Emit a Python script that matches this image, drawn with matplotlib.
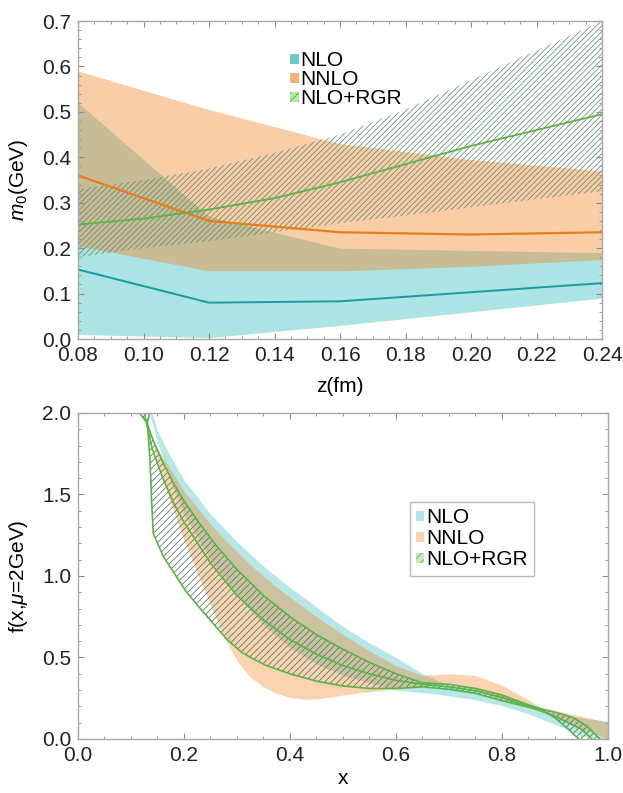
import numpy as np
import matplotlib
matplotlib.use("Agg")
import matplotlib.pyplot as plt
from matplotlib.patches import Patch
from matplotlib.ticker import MultipleLocator, FormatStrFormatter

plt.rcParams['font.family'] = ['Liberation Sans', 'DejaVu Sans']
plt.rcParams['mathtext.fontset'] = 'custom'
plt.rcParams['mathtext.it'] = 'Liberation Sans:italic'
plt.rcParams['mathtext.rm'] = 'Liberation Sans'
plt.rcParams['hatch.linewidth'] = 0.55

# ---------------- top panel: m0 vs z ----------------
z = [0.08, 0.12, 0.16, 0.20, 0.24]
nlo_m0 = [0.153, 0.080, 0.083, 0.103, 0.123]
nlo_m0_lo = [0.010, 0.003, 0.030, 0.060, 0.090]
nlo_m0_hi = [0.520, 0.270, 0.200, 0.195, 0.190]
nnlo_m0 = [0.360, 0.260, 0.235, 0.230, 0.235]
nnlo_m0_lo = [0.205, 0.150, 0.150, 0.160, 0.175]
nnlo_m0_hi = [0.590, 0.505, 0.430, 0.395, 0.370]

z_rgr = [0.08, 0.10, 0.12, 0.14, 0.16, 0.18, 0.20, 0.22, 0.24]
rgr_m0 = [0.252, 0.265, 0.285, 0.310, 0.345, 0.385, 0.425, 0.460, 0.495]
rgr_m0_lo = [0.180, 0.200, 0.215, 0.235, 0.255, 0.272, 0.290, 0.308, 0.325]
rgr_m0_hi = [0.330, 0.350, 0.375, 0.410, 0.450, 0.505, 0.570, 0.635, 0.700]

# ---------------- bottom panel: f(x) ----------------
x_nlo = [0.135, 0.15, 0.175, 0.20, 0.25, 0.30, 0.35, 0.40, 0.45, 0.50,
         0.55, 0.60, 0.65, 0.70, 0.75, 0.80, 0.85, 0.90, 0.95, 1.00]
f_nlo_hi = [2.05, 1.89, 1.73, 1.59, 1.38, 1.21, 1.06, 0.93, 0.81, 0.69,
            0.59, 0.50, 0.40, 0.33, 0.31, 0.27, 0.21, 0.16, 0.13, 0.11]
f_nlo_lo = [2.00, 1.82, 1.58, 1.38, 1.10, 0.88, 0.70, 0.56, 0.46, 0.39,
            0.345, 0.30, 0.285, 0.265, 0.24, 0.205, 0.155, 0.09, 0.02, 0.0]

x_nnlo = [0.14, 0.15, 0.175, 0.20, 0.225, 0.25, 0.275, 0.30, 0.325, 0.35,
          0.375, 0.40, 0.425, 0.45, 0.50, 0.55, 0.60, 0.65, 0.70, 0.75,
          0.80, 0.85, 0.875, 0.90, 0.95, 1.00]
f_nnlo_hi = [1.85, 1.78, 1.65, 1.52, 1.42, 1.32, 1.23, 1.15, 1.07, 1.00,
             0.93, 0.87, 0.81, 0.75, 0.64, 0.54, 0.45, 0.39, 0.40, 0.39,
             0.33, 0.24, 0.19, 0.175, 0.14, 0.10]
f_nnlo_lo = [1.84, 1.70, 1.45, 1.22, 1.02, 0.82, 0.63, 0.48, 0.38, 0.32,
             0.28, 0.255, 0.245, 0.245, 0.27, 0.29, 0.31, 0.33, 0.335, 0.30,
             0.24, 0.19, 0.17, 0.13, 0.06, 0.0]

x_rgr_a = [0.116, 0.13, 0.142, 0.16, 0.18, 0.20, 0.23, 0.26, 0.30, 0.35,
           0.40, 0.45, 0.50, 0.55, 0.60, 0.65, 0.70, 0.75, 0.80, 0.85,
           0.87, 0.90, 0.935, 0.96, 0.985]
f_rgr_a = [2.00, 1.94, 1.83, 1.70, 1.57, 1.46, 1.32, 1.19, 1.04, 0.88,
           0.75, 0.64, 0.55, 0.47, 0.40, 0.345, 0.335, 0.31, 0.27, 0.21,
           0.188, 0.165, 0.13, 0.08, 0.0]
x_rgr_b = [0.135, 0.131, 0.136, 0.139, 0.142, 0.161, 0.185, 0.205, 0.236, 0.26,
           0.281, 0.31, 0.331, 0.356, 0.40, 0.45, 0.50, 0.55, 0.60, 0.65,
           0.70, 0.75, 0.80, 0.85, 0.87, 0.90, 0.92, 0.945]
f_rgr_b = [2.00, 1.94, 1.70, 1.45, 1.26, 1.12, 1.00, 0.90, 0.78, 0.69,
           0.61, 0.53, 0.49, 0.45, 0.40, 0.355, 0.325, 0.31, 0.31, 0.32,
           0.305, 0.28, 0.235, 0.195, 0.188, 0.13, 0.075, 0.0]
x_rgr_c = [0.125, 0.14, 0.16, 0.18, 0.20, 0.25, 0.30, 0.35, 0.40, 0.45,
           0.50, 0.55, 0.60, 0.65, 0.70, 0.75, 0.80, 0.85, 0.90, 0.95, 0.97]
f_rgr_c = [2.00, 1.78, 1.60, 1.45, 1.33, 1.08, 0.88, 0.73, 0.61, 0.52,
           0.45, 0.40, 0.36, 0.335, 0.32, 0.295, 0.255, 0.20, 0.14, 0.06, 0.0]

legend_labels = ['NLO', 'NNLO', 'NLO+RGR']

# colours
c_nlo = '#12b2b2'
c_nlo_line = '#1a9aa0'
c_nnlo = '#f2821e'
c_nnlo_line = '#e67e1c'
c_rgr = '#5cb346'
c_hatch_top = '#5f8a72'
c_hatch_bot = '#4d7560'
frame_col = '#a8a8a8'


def style_axes(ax):
    for s in ax.spines.values():
        s.set_color(frame_col)
        s.set_linewidth(1.0)
    ax.tick_params(which='both', direction='in', top=True, right=True,
                   color='#8c8c8c', labelsize=15, labelcolor='#222222')
    ax.tick_params(which='major', length=4.5, width=0.8, pad=5)
    ax.tick_params(which='minor', length=2.5, width=0.6)


fig = plt.figure(figsize=(6.23, 7.93), dpi=100)

# ---- top axes ----
ax1 = fig.add_axes([0.1252, 0.5725, 0.8411, 0.4010])
ax1.fill_between(z, nlo_m0_lo, nlo_m0_hi, color=c_nlo, alpha=0.35, lw=0)
ax1.fill_between(z, nnlo_m0_lo, nnlo_m0_hi, color=c_nnlo, alpha=0.4, lw=0)
ax1.fill_between(z_rgr, rgr_m0_lo, rgr_m0_hi, facecolor='none',
                 edgecolor=c_hatch_top, hatch='//////', lw=0)
ax1.plot(z, nlo_m0, color=c_nlo_line, lw=1.4)
ax1.plot(z, nnlo_m0, color=c_nnlo_line, lw=1.6)
ax1.plot(z_rgr, rgr_m0, color=c_rgr, lw=1.3)
ax1.set_xlim(0.08, 0.24)
ax1.set_ylim(0.0, 0.7)
ax1.xaxis.set_major_locator(MultipleLocator(0.02))
ax1.xaxis.set_minor_locator(MultipleLocator(0.005))
ax1.yaxis.set_major_locator(MultipleLocator(0.1))
ax1.yaxis.set_minor_locator(MultipleLocator(0.02))
ax1.xaxis.set_major_formatter(FormatStrFormatter('%.2f'))
ax1.yaxis.set_major_formatter(FormatStrFormatter('%.1f'))
style_axes(ax1)
ax1.set_xlabel('z(fm)', fontsize=15)
ax1.set_ylabel('$m_0$(GeV)', fontsize=15)
ax1.xaxis.set_label_coords(0.5, -0.118)
ax1.yaxis.set_label_coords(-0.092, 0.5)

h_top = [Patch(facecolor='#6ccaca', edgecolor='none'),
         Patch(facecolor='#f7b27a', edgecolor='none'),
         Patch(facecolor='#b9e6a9', edgecolor='#43a83a', hatch='////', lw=0)]
ax1.legend(h_top, legend_labels, loc='upper left', bbox_to_anchor=(0.405, 0.905),
           frameon=False, fontsize=15, handlelength=0.4, handleheight=0.4,
           handletextpad=0.1, labelspacing=0.0, borderpad=0, borderaxespad=0)

# ---- bottom axes ----
ax2 = fig.add_axes([0.1252, 0.0681, 0.8507, 0.4111])
ax2.fill_between(x_nlo, f_nlo_lo, f_nlo_hi, color=c_nlo, alpha=0.30, lw=0)
ax2.fill_between(x_nnlo, f_nnlo_lo, f_nnlo_hi, color=c_nnlo, alpha=0.35, lw=0)
band_x = np.concatenate([x_rgr_a, x_rgr_b[::-1]])
band_y = np.concatenate([f_rgr_a, f_rgr_b[::-1]])
ax2.fill(band_x, band_y, facecolor='none', edgecolor=c_hatch_bot,
         hatch='/////', lw=0)
ax2.plot(x_rgr_a, f_rgr_a, color=c_rgr, lw=1.2)
ax2.plot(x_rgr_b, f_rgr_b, color=c_rgr, lw=1.2)
ax2.plot(x_rgr_c, f_rgr_c, color=c_rgr, lw=1.2)
ax2.set_xlim(0.0, 1.0)
ax2.set_ylim(0.0, 2.0)
ax2.xaxis.set_major_locator(MultipleLocator(0.2))
ax2.xaxis.set_minor_locator(MultipleLocator(0.05))
ax2.yaxis.set_major_locator(MultipleLocator(0.5))
ax2.yaxis.set_minor_locator(MultipleLocator(0.1))
ax2.xaxis.set_major_formatter(FormatStrFormatter('%.1f'))
ax2.yaxis.set_major_formatter(FormatStrFormatter('%.1f'))
style_axes(ax2)
ax2.set_xlabel('x', fontsize=15)
ax2.set_ylabel('f(x,$\\mu$=2GeV)', fontsize=15)
ax2.xaxis.set_label_coords(0.5, -0.093)
ax2.yaxis.set_label_coords(-0.09, 0.5)

h_bot = [Patch(facecolor='#b5e4e5', edgecolor='none'),
         Patch(facecolor='#fbd2ae', edgecolor='none'),
         Patch(facecolor='#c9ecbd', edgecolor='#55b048', hatch='////', lw=0)]
leg2 = ax2.legend(h_bot, legend_labels, loc='upper left',
                  bbox_to_anchor=(0.626, 0.727), frameon=True, fancybox=False,
                  fontsize=15, handlelength=0.4, handleheight=0.4,
                  handletextpad=0.1, labelspacing=0.1, borderpad=0.3,
                  borderaxespad=0)
leg2.get_frame().set_edgecolor(frame_col)
leg2.get_frame().set_linewidth(1.0)

fig.savefig('out.png', dpi=100)
